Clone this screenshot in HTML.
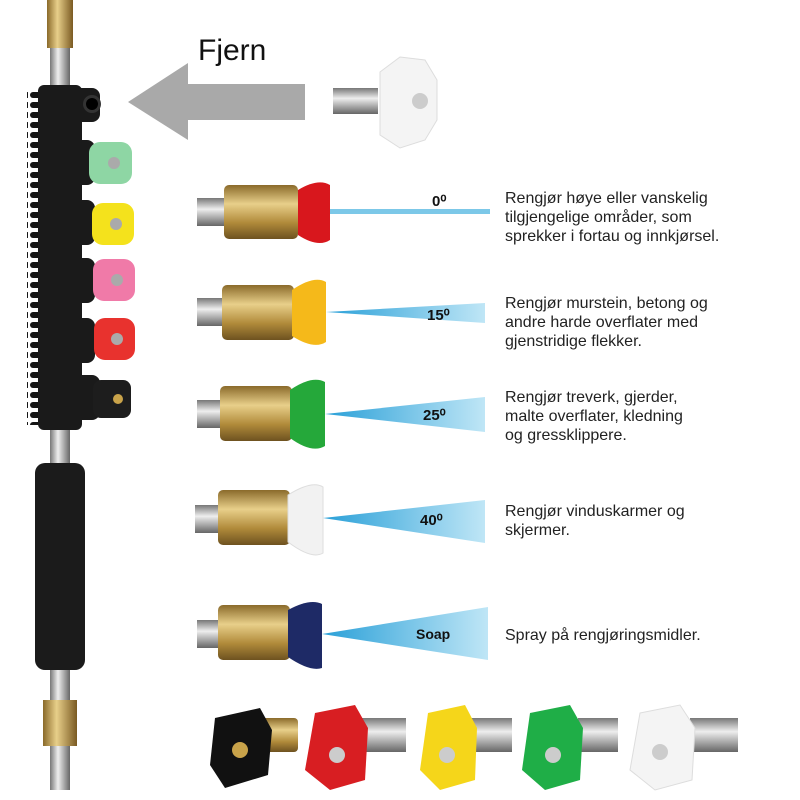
<!DOCTYPE html>
<html><head><meta charset="utf-8"><style>
body{margin:0;background:#fff;width:800px;height:800px;position:relative;overflow:hidden;font-family:"Liberation Sans",sans-serif}
.a{position:absolute}
.desc{position:absolute;left:505px;font-size:16px;line-height:19px;color:#222}
.lbl{position:absolute;font-weight:bold;font-size:15px;color:#111;font-family:"Liberation Sans",sans-serif}
</style></head><body>
<svg class="a" style="left:0;top:0" width="800" height="800">
<defs>
<linearGradient id="br" x1="0" y1="0" x2="0" y2="1"><stop offset="0" stop-color="#8a6a2a"/><stop offset=".35" stop-color="#e8cf8a"/><stop offset=".7" stop-color="#b08a3a"/><stop offset="1" stop-color="#6e5220"/></linearGradient>
<linearGradient id="brv" x1="0" y1="0" x2="1" y2="0"><stop offset="0" stop-color="#8a6a2a"/><stop offset=".4" stop-color="#e8cf8a"/><stop offset="1" stop-color="#7a5a22"/></linearGradient>
<linearGradient id="sv" x1="0" y1="0" x2="0" y2="1"><stop offset="0" stop-color="#777"/><stop offset=".4" stop-color="#eee"/><stop offset="1" stop-color="#666"/></linearGradient>
<linearGradient id="svv" x1="0" y1="0" x2="1" y2="0"><stop offset="0" stop-color="#777"/><stop offset=".4" stop-color="#eee"/><stop offset="1" stop-color="#666"/></linearGradient>
<linearGradient id="sp" x1="0" y1="0" x2="1" y2="0"><stop offset="0" stop-color="#2aa0d8"/><stop offset="1" stop-color="#bfe6f6"/></linearGradient>
<pattern id="teeth" x="0" y="0" width="14" height="10" patternUnits="userSpaceOnUse"><rect x="2" y="2" width="14" height="6" rx="3" fill="#151515"/></pattern>
</defs>
<!-- wand -->
<rect x="47" y="0" width="26" height="48" fill="url(#brv)"/>
<rect x="50" y="48" width="20" height="42" fill="url(#svv)"/>
<rect x="27" y="90" width="16" height="335" fill="url(#teeth)"/>
<rect x="38" y="85" width="44" height="345" rx="6" fill="#1a1a1a"/>
<g fill="#1a1a1a">
<rect x="70" y="88" width="30" height="34" rx="8"/>
<rect x="70" y="140" width="25" height="45" rx="8"/><rect x="70" y="200" width="25" height="45" rx="8"/>
<rect x="70" y="258" width="25" height="45" rx="8"/><rect x="70" y="318" width="25" height="45" rx="8"/>
<rect x="70" y="375" width="30" height="45" rx="8"/></g>
<circle cx="92" cy="104" r="9" fill="#333"/><circle cx="92" cy="104" r="6" fill="#000"/>
<rect x="50" y="430" width="20" height="36" fill="url(#svv)"/>
<rect x="35" y="463" width="50" height="207" rx="10" fill="#1b1b1b"/>
<rect x="50" y="670" width="20" height="32" fill="url(#svv)"/>
<rect x="43" y="700" width="34" height="46" fill="url(#brv)"/>
<rect x="50" y="746" width="20" height="44" fill="url(#svv)"/>
<g>
<rect x="89" y="142" width="43" height="42" rx="11" fill="#8ed6a4"/><circle cx="114" cy="163" r="6" fill="#aaa"/>
<rect x="92" y="203" width="42" height="42" rx="11" fill="#f4e21c"/><circle cx="116" cy="224" r="6" fill="#aaa"/>
<rect x="93" y="259" width="42" height="42" rx="11" fill="#f07aa8"/><circle cx="117" cy="280" r="6" fill="#aaa"/>
<rect x="94" y="318" width="41" height="42" rx="11" fill="#e8322e"/><circle cx="117" cy="339" r="6" fill="#aaa"/>
<rect x="93" y="380" width="38" height="38" rx="8" fill="#1d1d1d"/><circle cx="118" cy="399" r="5" fill="#c9a34a"/>
</g>
<!-- arrow -->
<polygon points="128,102 188,63 188,84 305,84 305,120 188,120 188,140" fill="#a9a9a9"/>
<!-- top white tip -->
<rect x="333" y="88" width="45" height="26" fill="url(#sv)"/>
<polygon points="380,72 400,57 425,60 437,80 437,120 425,140 400,148 380,135" fill="#f4f4f4" stroke="#ddd"/>
<circle cx="420" cy="101" r="8" fill="#ccc"/>
<!-- rows -->
<g>
<rect x="197" y="198" width="30" height="28" fill="url(#sv)"/><rect x="224" y="185" width="74" height="54" rx="5" fill="url(#br)"/>
<path d="M298,190 Q318,178 330,185 L330,240 Q318,248 298,235Z" fill="#d8171d"/>
<polygon points="330,209 490,209 490,214 330,214" fill="#7cc8e8"/>
<rect x="197" y="298" width="30" height="28" fill="url(#sv)"/><rect x="222" y="285" width="72" height="55" rx="5" fill="url(#br)"/>
<path d="M292,290 Q314,275 326,282 L326,342 Q314,350 292,336Z" fill="#f5b91a"/>
<polygon points="326,312 485,303 485,323" fill="url(#sp)"/>
<rect x="197" y="400" width="30" height="28" fill="url(#sv)"/><rect x="220" y="386" width="72" height="55" rx="5" fill="url(#br)"/>
<path d="M290,390 Q312,375 325,382 L325,446 Q312,454 290,438Z" fill="#25a83a"/>
<polygon points="325,414 485,397 485,432" fill="url(#sp)"/>
<rect x="195" y="505" width="30" height="28" fill="url(#sv)"/><rect x="218" y="490" width="72" height="55" rx="5" fill="url(#br)"/>
<path d="M288,495 Q312,480 323,487 L323,553 Q312,560 288,542Z" fill="#f2f2f2" stroke="#ddd"/>
<polygon points="323,518 485,500 485,543" fill="url(#sp)"/>
<rect x="197" y="620" width="30" height="28" fill="url(#sv)"/><rect x="218" y="605" width="72" height="55" rx="5" fill="url(#br)"/>
<path d="M288,610 Q310,598 322,604 L322,668 Q310,672 288,657Z" fill="#1e2a66"/>
<polygon points="322,634 488,607 488,660" fill="url(#sp)"/>
</g>
<!-- bottom tips -->
<g>
<rect x="262" y="718" width="36" height="34" rx="4" fill="url(#br)"/><path d="M215,718 L260,708 L272,730 L268,775 L225,788 L210,765Z" fill="#111"/><circle cx="240" cy="750" r="8" fill="#c9a34a"/>
<rect x="360" y="718" width="46" height="34" fill="url(#sv)"/><path d="M315,713 L355,705 L368,728 L365,780 L330,790 L305,770Z" fill="#d81e22"/><circle cx="337" cy="755" r="8" fill="#ccc"/>
<rect x="470" y="718" width="42" height="34" fill="url(#sv)"/><path d="M428,713 L465,705 L477,728 L475,780 L440,790 L420,770Z" fill="#f5d61a"/><circle cx="447" cy="755" r="8" fill="#ccc"/>
<rect x="578" y="718" width="40" height="34" fill="url(#sv)"/><path d="M530,713 L570,705 L583,728 L580,780 L545,790 L522,770Z" fill="#1fae47"/><circle cx="553" cy="755" r="8" fill="#ccc"/>
<rect x="690" y="718" width="48" height="34" fill="url(#sv)"/><path d="M640,713 L680,705 L695,728 L692,780 L655,790 L630,770Z" fill="#f4f4f4" stroke="#ddd"/><circle cx="660" cy="752" r="8" fill="#ccc"/>
</g>
</svg>
<div class="a" style="left:198px;top:34px;font-size:30px;color:#111">Fjern</div>
<div class="lbl" style="left:432px;top:192px">0⁰</div>
<div class="lbl" style="left:427px;top:306px">15⁰</div>
<div class="lbl" style="left:423px;top:406px">25⁰</div>
<div class="lbl" style="left:420px;top:511px">40⁰</div>
<div class="lbl" style="left:416px;top:626px;font-size:14px">Soap</div>
<div class="desc" style="top:189px">Rengjør høye eller vanskelig<br>tilgjengelige områder, som<br>sprekker i fortau og innkjørsel.</div>
<div class="desc" style="top:294px">Rengjør murstein, betong og<br>andre harde overflater med<br>gjenstridige flekker.</div>
<div class="desc" style="top:388px">Rengjør treverk, gjerder,<br>malte overflater, kledning<br>og gressklippere.</div>
<div class="desc" style="top:502px">Rengjør vinduskarmer og<br>skjermer.</div>
<div class="desc" style="top:626px">Spray på rengjøringsmidler.</div>
</body></html>
